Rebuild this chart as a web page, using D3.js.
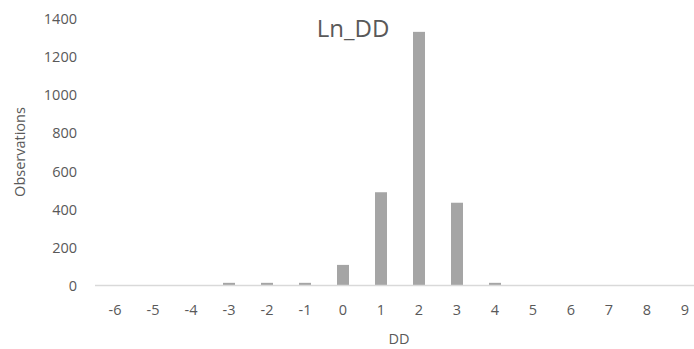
<!DOCTYPE html>
<html><head><meta charset="utf-8">
<script src="https://cdn.jsdelivr.net/npm/d3@7"></script>
<style>body{margin:0;background:#fff}svg{display:block}text{font-family:"Open Sans",sans-serif;fill:#595959}</style>
</head><body><svg id="c" width="694" height="349"></svg>
<script>
const categories = ["-6","-5","-4","-3","-2","-1","0","1","2","3","4","5","6","7","8","9"];
const observations = [0,0,0,14,14,14,108,489,1330,434,14,0,0,0,0,0];
const yTicks = [0,200,400,600,800,1000,1200,1400];
const title = "Ln_DD", xTitle = "DD", yTitle = "Observations";

const svg = d3.select("#c");
const x = d3.scaleBand().domain(categories).range([96, 704]).paddingInner(0.68).paddingOuter(0.34);
const y = d3.scaleLinear().domain([0, 1400]).range([285.5, 18.5]);

svg.append("g").selectAll("rect").data(categories).join("rect")
  .attr("x", (d) => x(d) + (x.bandwidth() - 12) / 2)
  .attr("width", 12)
  .attr("y", (d, i) => y(observations[i]))
  .attr("height", (d, i) => y(0) - y(observations[i]))
  .attr("fill", "#a5a5a5");

svg.append("line").attr("x1", 95).attr("x2", 694).attr("y1", y(0)).attr("y2", y(0))
  .attr("stroke", "#d9d9d9").attr("stroke-width", 1.3);

svg.append("g").selectAll("text").data(yTicks).join("text")
  .attr("x", 77).attr("y", (d) => y(d) + 5.5).attr("text-anchor", "end")
  .attr("font-size", 14.5).text((d) => d);

svg.append("g").selectAll("text").data(categories).join("text")
  .attr("x", (d) => x(d) + x.bandwidth() / 2).attr("y", 315).attr("text-anchor", "middle")
  .attr("font-size", 14.5).text((d) => d);

svg.append("text").attr("x", 353).attr("y", 37).attr("text-anchor", "middle")
  .attr("font-size", 24).text(title);
svg.append("text").attr("x", 399).attr("y", 344).attr("text-anchor", "middle")
  .attr("font-size", 14.5).text(xTitle);
svg.append("text").attr("transform", "translate(25,152) rotate(-90)").attr("text-anchor", "middle")
  .attr("font-size", 14.5).text(yTitle);
</script></body></html>
